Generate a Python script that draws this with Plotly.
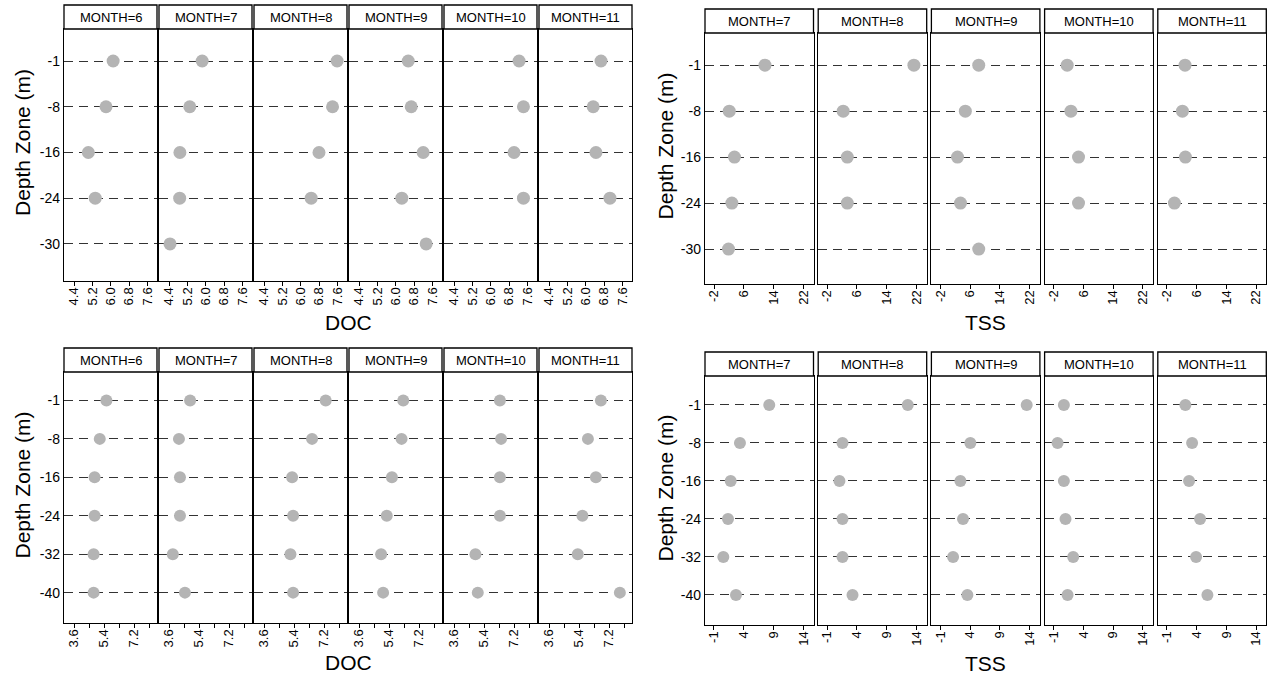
import plotly.graph_objects as go

W, H = 1268, 679
FONT = "Liberation Sans, Arial, sans-serif"

# ---------------- data ----------------
DEPTH_TOP = ["-1", "-8", "-16", "-24", "-30"]
DEPTH_BOTTOM = ["-1", "-8", "-16", "-24", "-32", "-40"]
MONTHS_DOC = [6, 7, 8, 9, 10, 11]
MONTHS_TSS = [7, 8, 9, 10, 11]

# tick values / labels of the value axes
DOC_TOP_TICKS = [4.4, 5.2, 6.0, 6.8, 7.6]
TSS_TOP_TICKS = [-2, 6, 14, 22]
DOC_BOTTOM_TICKS = [3.6, 5.4, 7.2]
TSS_BOTTOM_TICKS = [-1, 4, 9, 14]

# DOC, upper block (one list per month, one value per depth zone)
DOC_TOP = [
    [6.10, 5.79, 5.02, 5.32, None],
    [5.84, 5.30, 4.87, 4.86, 4.44],
    [7.58, 7.38, 6.79, 6.45, None],
    [6.54, 6.67, 7.19, 6.26, 7.32],
    [7.23, 7.42, 7.01, 7.42, None],
    [6.66, 6.32, 6.44, 7.05, None],
]
# TSS, upper block
TSS_TOP = [
    [11.7, 2.1, 3.5, 2.8, 1.9],
    [21.3, 2.3, 3.4, 3.4, None],
    [8.3, 4.7, 2.6, 3.4, 8.3],
    [1.65, 2.65, 4.7, 4.7, None],
    [2.9, 2.2, 3.0, 0.05, None],
]
# DOC, lower block
DOC_BOTTOM = [
    [5.54, 5.14, 4.83, 4.83, 4.77, 4.77],
    [4.86, 4.19, 4.25, 4.25, 3.82, 4.55],
    [7.30, 6.48, 5.28, 5.34, 5.18, 5.34],
    [6.25, 6.15, 5.57, 5.26, 4.92, 5.04],
    [6.35, 6.42, 6.35, 6.35, 4.88, 5.02],
    [6.71, 5.93, 6.41, 5.60, 5.32, 7.85],
]
# TSS, lower block
TSS_BOTTOM = [
    [8.28, 3.36, 1.80, 1.35, 0.57, 2.69],
    [12.53, 1.57, 1.06, 1.57, 1.57, 3.25],
    [13.49, 4.03, 2.36, 2.80, 1.13, 3.53],
    [0.73, -0.33, 0.73, 1.00, 2.29, 1.35],
    [2.12, 3.25, 2.74, 4.59, 3.92, 5.82],
]

# ---------------- layout of the four blocks (pixels) ----------------
groups = [
    dict(months=MONTHS_DOC, values=DOC_TOP, depths=DEPTH_TOP, xtitle="DOC",
         x0=64, step=95, w=93, head_top=5, plot_top=29, plot_bottom=281,
         xrange=[3.96, 8.01], ticks=DOC_TOP_TICKS, fmt="{:.1f}", minor=None,
         yrange=[4.81, -0.70], ytitle_x=22, xtitle_y=322, msize=13),
    dict(months=MONTHS_TSS, values=TSS_TOP, depths=DEPTH_TOP, xtitle="TSS",
         x0=705, step=113.2, w=108.5, head_top=9, plot_top=33, plot_bottom=284,
         xrange=[-4.42, 24.74], ticks=TSS_TOP_TICKS, fmt="{:d}", minor=None,
         yrange=[4.76, -0.70], ytitle_x=665, xtitle_y=322, msize=13),
    dict(months=MONTHS_DOC, values=DOC_BOTTOM, depths=DEPTH_BOTTOM, xtitle="DOC",
         x0=64, step=95, w=93, head_top=348, plot_top=372, plot_bottom=623,
         xrange=[2.99, 8.58], ticks=DOC_BOTTOM_TICKS, fmt="{:.1f}", minor=0.9,
         yrange=[5.79, -0.74], ytitle_x=22, xtitle_y=662, msize=12),
    dict(months=MONTHS_TSS, values=TSS_BOTTOM, depths=DEPTH_BOTTOM, xtitle="TSS",
         x0=705, step=113.2, w=108.5, head_top=352, plot_top=376, plot_bottom=625,
         xrange=[-2.51, 15.71], ticks=TSS_BOTTOM_TICKS, fmt="{:d}", minor=None,
         yrange=[5.79, -0.76], ytitle_x=665, xtitle_y=663, msize=12),
]

fig = go.Figure()
layout_axes = {}
shapes = []
annotations = []

k = 0
for g in groups:
    n = len(g["months"])
    ticktext = [g["fmt"].format(t) for t in g["ticks"]]
    for i, (month, vals) in enumerate(zip(g["months"], g["values"])):
        k += 1
        xa = "x" if k == 1 else f"x{k}"
        ya = "y" if k == 1 else f"y{k}"
        xs = [v for v in vals if v is not None]
        ys = [d for d, v in zip(g["depths"], vals) if v is not None]
        fig.add_trace(go.Scatter(
            x=xs, y=ys, xaxis=xa, yaxis=ya, mode="markers",
            marker=dict(color="#b4b4b4", size=g["msize"], line=dict(width=0)),
            showlegend=False, cliponaxis=False,
            name=f"MONTH={month}"))
        px0 = g["x0"] + i * g["step"]
        px1 = px0 + g["w"]
        xdict = dict(
            domain=[px0 / W, px1 / W], anchor=ya, range=g["xrange"],
            tickmode="array", tickvals=g["ticks"], ticktext=ticktext,
            ticks="outside", ticklen=4, tickwidth=1,
            tickcolor="black", tickangle=-90, ticklabelstandoff=-4,
            tickfont=dict(family=FONT, size=13, color="black"),
            showline=True, mirror=True, linecolor="black", linewidth=1.3,
            showgrid=False, zeroline=False, fixedrange=True,
        )
        if g["minor"]:
            xdict["minor"] = dict(ticks="outside", ticklen=4, tickcolor="black",
                                  tick0=g["ticks"][0], dtick=g["minor"], showgrid=False)
        ydict = dict(
            domain=[1 - g["plot_bottom"] / H, 1 - g["plot_top"] / H], anchor=xa,
            type="category", categoryorder="array", categoryarray=g["depths"],
            range=g["yrange"], showgrid=True, gridcolor="#333333", gridwidth=1,
            griddash="9px,6px", ticks="", showticklabels=(i == 0),
            tickfont=dict(family=FONT, size=14, color="black"),
            showline=True, mirror=True, linecolor="black", linewidth=1.3,
            zeroline=False, fixedrange=True,
        )
        layout_axes["xaxis" if k == 1 else f"xaxis{k}"] = xdict
        layout_axes["yaxis" if k == 1 else f"yaxis{k}"] = ydict

        # strip header
        shapes.append(dict(type="rect", xref="paper", yref="paper",
                           x0=px0 / W, x1=px1 / W,
                           y0=1 - g["plot_top"] / H, y1=1 - g["head_top"] / H,
                           line=dict(color="black", width=1.3), fillcolor="white",
                           layer="above"))
        annotations.append(dict(
            text=f"MONTH={month}", xref="paper", yref="paper",
            x=(px0 + px1) / 2 / W, y=1 - (g["head_top"] + g["plot_top"]) / 2 / H,
            showarrow=False, xanchor="center", yanchor="middle",
            font=dict(family=FONT, size=13, color="black")))

    # axis titles for the block
    left = g["x0"]
    right = g["x0"] + (n - 1) * g["step"] + g["w"]
    annotations.append(dict(
        text=g["xtitle"], xref="paper", yref="paper",
        x=(left + right) / 2 / W, y=1 - g["xtitle_y"] / H,
        showarrow=False, xanchor="center", yanchor="middle",
        font=dict(family=FONT, size=21, color="black")))
    annotations.append(dict(
        text="Depth Zone (m)", xref="paper", yref="paper",
        x=g["ytitle_x"] / W, y=1 - (g["head_top"] + g["plot_bottom"]) / 2 / H,
        showarrow=False, xanchor="center", yanchor="middle", textangle=-90,
        font=dict(family=FONT, size=21, color="black")))

fig.update_layout(
    width=W, height=H,
    margin=dict(l=0, r=0, t=0, b=0),
    paper_bgcolor="white", plot_bgcolor="white",
    shapes=shapes, annotations=annotations,
    font=dict(family=FONT, color="black"),
    **layout_axes,
)

fig.write_html("out.html", config={"displayModeBar": False})

# remove the default page margin so the figure sits at the window origin
with open("out.html", "r", encoding="utf-8") as f:
    html = f.read()
html = html.replace("<head>", "<head><style>html,body{margin:0;padding:0;overflow:hidden;}</style>", 1)
with open("out.html", "w", encoding="utf-8") as f:
    f.write(html)
